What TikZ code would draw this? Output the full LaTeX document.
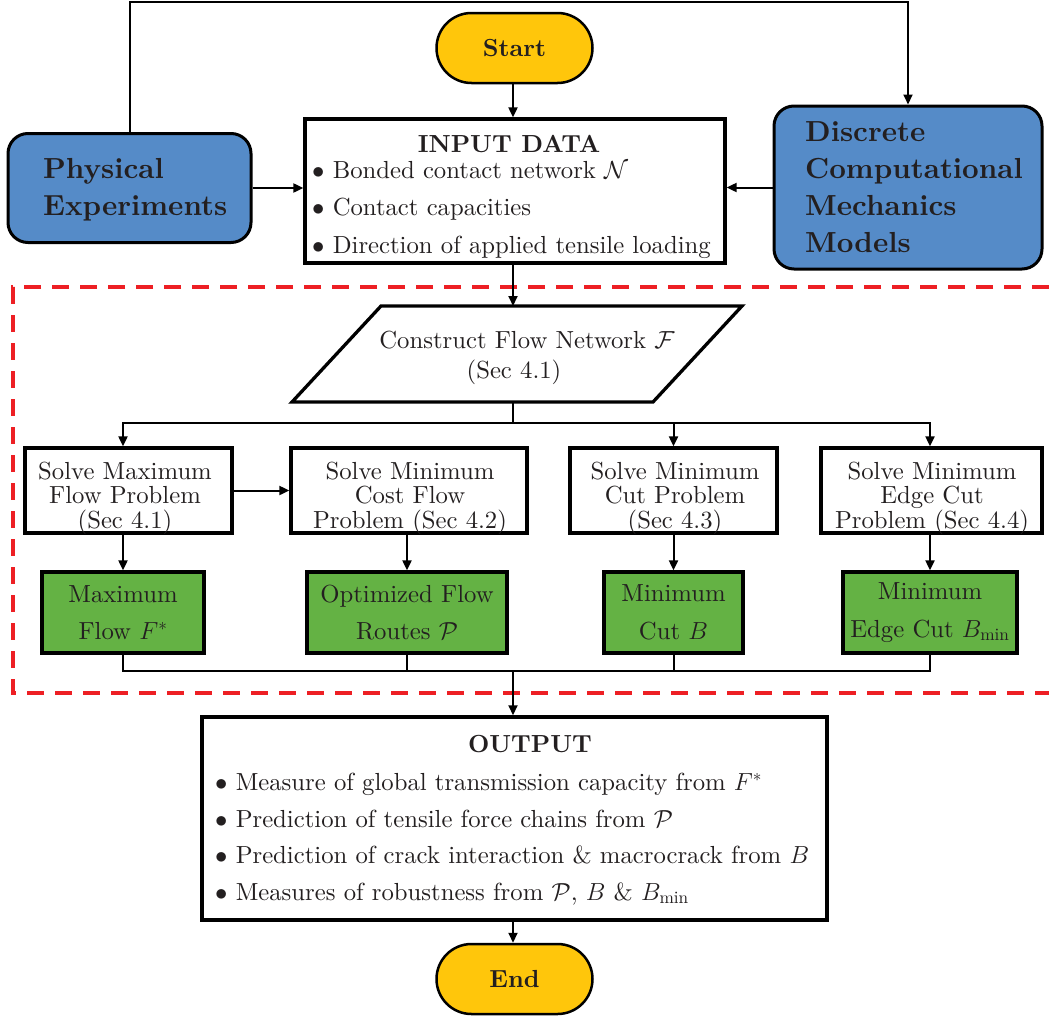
\RequirePackage{fix-cm}
\documentclass[tikz,border=0pt]{standalone}
\usepackage{fontspec}
\setmainfont{lmroman10}[Extension=.otf, UprightFont=*-regular, BoldFont=*-bold, ItalicFont=*-italic, BoldItalicFont=*-bolditalic]
\usetikzlibrary{arrows.meta,shapes.misc}
\definecolor{boxblue}{RGB}{85,139,200}
\definecolor{startyellow}{RGB}{255,198,11}
\definecolor{resgreen}{RGB}{100,178,68}
\definecolor{dashred}{RGB}{237,31,36}
\definecolor{ink}{RGB}{35,31,32}
\newcommand\fsbody{\fontsize{24.7}{24.5}\selectfont}
\newcommand\fsgreen{\fontsize{24.7}{37.5}\selectfont}
\newcommand\fsbig{\fontsize{29}{37}\selectfont\bfseries}
\begin{document}
\begin{tikzpicture}[x=1pt,y=-1pt,
  every node/.style={inner sep=0pt, text=ink},
  plainbox/.style={draw=black, line width=3.3pt, fill=white, minimum height=85pt},
  greenbox/.style={draw=black, line width=3.3pt, fill=resgreen, minimum height=81pt, align=center, font=\fsgreen},
  bluebox/.style={draw=black, line width=3pt, fill=boxblue, rounded corners=20pt},
  terminal/.style={draw=black, line width=2.5pt, fill=startyellow, rounded rectangle, minimum width=156pt, minimum height=70pt, font=\fsbody\bfseries},
  conn/.style={draw=black, line width=2pt},
  arr/.style={conn, -{Triangle[length=10pt,width=9pt]}},
  txt/.style={font=\fsbody, align=center},
  bigtxt/.style={font=\fsbig, align=left, anchor=west},
  item/.style={font=\fsbody, anchor=base west},
]
\fill[white] (0,0) rectangle (1049,1017);
\useasboundingbox (0,0) rectangle (1049,1017);

% dashed region
\draw[dashred, line width=4pt, dash pattern=on 17pt off 11pt] (1049,287) -- (13,287) -- (13,693) -- (1049,693);

% top
\node[terminal] (start) at (514.5,48) {Start};
\node[bluebox, minimum width=243pt, minimum height=109pt] (pe) at (129.5,188) {};
\node[bigtxt] (pet) at (43,189.5) {Physical\\Experiments};
\node[bluebox, minimum width=268pt, minimum height=163pt] (disc) at (908,187.5) {};
\node[bigtxt] (disct) at (805,187) {Discrete\\Computational\\Mechanics\\Models};
\node[plainbox, minimum width=420pt, minimum height=144pt] (input) at (515,191) {};
\node[font=\fsbody\bfseries, anchor=base] (inputtitle) at (509,152) {INPUT DATA};
\node[item] (in1) at (312,178) {$\bullet$ Bonded contact network $\mathcal{N}$};
\node[item] (in2) at (312,215) {$\bullet$ Contact capacities};
\node[item] (in3) at (312,253) {$\bullet$ Direction of applied tensile loading};

% parallelogram
\draw[line width=3.3pt, line join=miter] (381,306) -- (742,306) -- (653,402) -- (292,402) -- cycle;
\node[font=\fsbody, anchor=base] (cfn1) at (527,348) {Construct Flow Network $\mathcal{F}$};
\node[font=\fsbody, anchor=base] (cfn2) at (514,378) {(Sec 4.1)};
\coordinate (ptop) at (513,306);
\coordinate (pbot) at (513,402);
\coordinate (split) at (513,423);

% solve boxes
\node[plainbox, minimum width=207pt] (b1) at (128.5,490.5) {};
\node[txt] (b1t) at (125,498) {Solve Maximum\\Flow Problem\\(Sec 4.1)};
\node[plainbox, minimum width=236pt] (b2) at (409,490.5) {};
\node[txt] (b2t) at (410,498) {Solve Minimum\\Cost Flow\\Problem (Sec 4.2)};
\node[plainbox, minimum width=207pt] (b3) at (673.5,490.5) {};
\node[txt] (b3t) at (675,498) {Solve Minimum\\Cut Problem\\(Sec 4.3)};
\node[plainbox, minimum width=221pt] (b4) at (931.5,490.5) {};
\node[txt] (b4t) at (932,498) {Solve Minimum\\Edge Cut\\Problem (Sec 4.4)};

% results
\node[greenbox, minimum width=162pt] (g1) at (123,612.5) {Maximum\\Flow $F^*$};
\node[greenbox, minimum width=200pt] (g2) at (407,612.5) {Optimized Flow\\Routes $\mathcal{P}$};
\node[greenbox, minimum width=139pt] (g3) at (673.5,612.5) {Minimum\\Cut $B$};
\node[greenbox, minimum width=174pt] (g4) at (930,612.5) {Minimum\\Edge Cut $B_{\min}$};
\coordinate (merge) at (513,671);

% output
\node[plainbox, line width=3.5pt, minimum width=625pt, minimum height=203pt] (output) at (514.5,818.5) {};
\node[font=\fsbody\bfseries, anchor=base] (outtitle) at (530,752) {OUTPUT};
\node[item] (o1) at (215,790) {$\bullet$ Measure of global transmission capacity from $F^*$};
\node[item] (o2) at (215,827) {$\bullet$ Prediction of tensile force chains from $\mathcal{P}$};
\node[item] (o3) at (215,863) {$\bullet$ Prediction of crack interaction \& macrocrack from $B$};
\node[item] (o4) at (215,900) {$\bullet$ Measures of robustness from $\mathcal{P}$, $B$ \& $B_{\min}$};
\node[terminal] (end) at (514.5,979) {End};

% connectors
\draw[arr] (pe.north) -- ++(0,-130) -| (disc.north);
\draw[arr] (start.south -| ptop) -- (ptop |- input.north);
\draw[arr] (pe.east) -- (pe.east -| input.west);
\draw[arr] (disc.west) -- (disc.west -| input.east);
\draw[arr] (input.south -| ptop) -- (ptop);
\draw[conn] (pbot) -- (split);
\draw[arr] (split) -| (g1.north |- b1.north);
\draw[arr] (split) -| (g3.north |- b3.north);
\draw[arr] (split) -| (g4.north |- b4.north);
\draw[arr] (b1.east) -- (b2.west);
\draw[arr] (g1.north |- b1.south) -- (g1.north);
\draw[arr] (g2.north |- b2.south) -- (g2.north);
\draw[arr] (g3.north |- b3.south) -- (g3.north);
\draw[arr] (g4.north |- b4.south) -- (g4.north);
\draw[conn] (g1.south) -- (g1.south |- merge) -- (g4.south |- merge) -- (g4.south);
\draw[conn] (g2.south) -- (g2.south |- merge);
\draw[conn] (g3.south) -- (g3.south |- merge);
\draw[arr] (merge) -- (merge |- output.north);
\draw[arr] (ptop |- output.south) -- (ptop |- end.north);
\end{tikzpicture}
\end{document}
